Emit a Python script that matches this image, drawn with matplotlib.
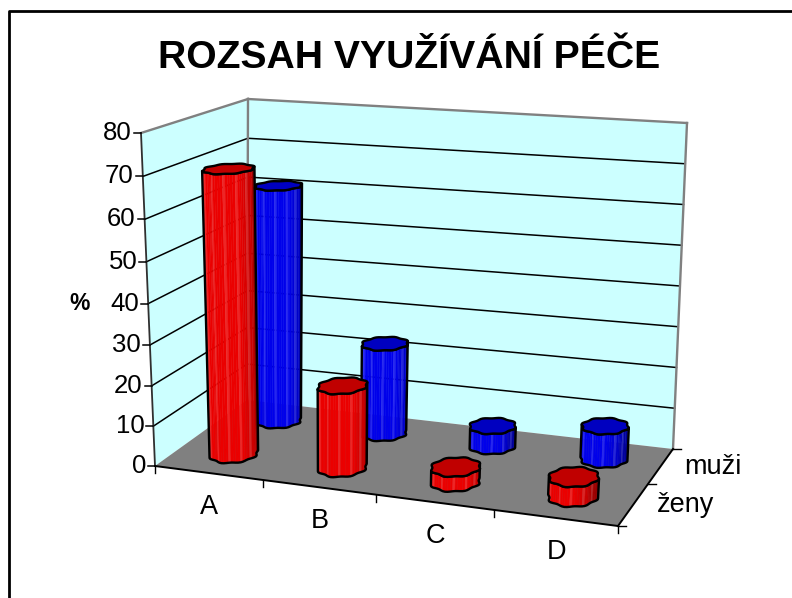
import numpy as np
import matplotlib
matplotlib.use('Agg')
import matplotlib.pyplot as plt
from matplotlib.patches import Polygon

plt.rcParams['font.family'] = ['Liberation Sans', 'DejaVu Sans']

title = "ROZSAH VYUŽÍVÁNÍ PÉČE"
categories = ['A', 'B', 'C', 'D']
series_names = ['ženy', 'muži']
zeny = [70, 20, 3.5, 4.5]
muzi = [61, 23, 5, 8]
z_ticks = [0, 10, 20, 30, 40, 50, 60, 70, 80]

# pixel positions of the 3D box corners, (cat, series, value)
corners = {
    (0, 0, 0): (155, 466), (1, 0, 0): (618, 526),
    (0, 1, 0): (247, 400), (1, 1, 0): (673, 449),
    (0, 0, 1): (141, 133), (1, 0, 1): (640, 160),
    (0, 1, 1): (248, 99), (1, 1, 1): (687, 123),
}


def project(x, y, z):
    u, v, w = x / 4, y / 2, z / 80
    # the original has some perspective, bend each axis a little
    w = w - 0.05 * w * (1 - w) * (1 - u)
    v = 1.2 * v / (1 + 0.2 * v)
    k = 0.911 + 0.04 * v
    u = k * u / (1 + (k - 1) * u)
    px, py = 0, 0
    for (a, b, c), (cx, cy) in corners.items():
        m = (u if a else 1 - u) * (v if b else 1 - v) * (w if c else 1 - w)
        px += m * cx
        py += m * cy
    return px, py


def line(ax, p1, p2, color='black', lw=1.2, zorder=2):
    ax.plot([p1[0], p2[0]], [p1[1], p2[1]], color=color, lw=lw, zorder=zorder,
            solid_capstyle='projecting')


def cylinder(ax, cat, ser, value, side, top, rx=0.195, ry=0.24):
    # angles of the ring, with a small ripple as in the original
    t = np.linspace(0, 2 * np.pi, 65)
    r = 1 + 0.05 * np.cos(8 * t)
    xs = cat + 0.5 + rx * r * np.cos(t)
    ys = ser + 0.5 + ry * r * np.sin(t)
    low = np.array([project(a, b, 0) for a, b in zip(xs, ys)])
    high = np.array([project(a, b, value) for a, b in zip(xs, ys)])

    left = np.argmin(high[:, 0] - high[:, 1] * 0.1)
    right = np.argmax(high[:, 0] - high[:, 1] * 0.1)
    n = len(t) - 1
    # front part of the ring, going from left to right along the lower side
    idx = []
    i = left
    step = 1 if high[(left + 1) % n, 1] > high[(left - 1) % n, 1] else -1
    while i != right:
        idx.append(i)
        i = (i + step) % n
    idx.append(right)

    low_f, high_f = low[idx], high[idx]
    for j in range(len(idx) - 1):
        f = j / (len(idx) - 2)
        shade = min(1, 1.15 - 0.6 * f ** 2.5)
        col = np.array(side) * shade
        if j % 5 == 2:
            col = col + (1 - col) * 0.15
        quad = [low_f[j], low_f[j + 1], high_f[j + 1], high_f[j]]
        ax.add_patch(Polygon(quad, closed=True, fc=np.clip(col, 0, 1), ec=np.clip(col, 0, 1),
                             lw=0.3, zorder=3))
    outline = np.vstack([low_f, high_f[::-1]])
    ax.add_patch(Polygon(outline, closed=True, fc='none', ec='black', lw=1.7, zorder=3,
                         joinstyle='round'))
    ax.add_patch(Polygon(high[:-1], closed=True, fc=top, ec='black', lw=1.7, zorder=3,
                         joinstyle='round'))


fig = plt.figure(figsize=(7.92, 5.98), dpi=100)
ax = fig.add_axes([0, 0, 1, 1])
ax.set_xlim(0, 792)
ax.set_ylim(598, 0)
ax.axis('off')

# frame, only top and left survive in the picture
ax.plot([9, 9, 792], [598, 11, 11], color='black', lw=2)

# walls and floor
ax.add_patch(Polygon([project(0, 0, 0), project(0, 2, 0), project(0, 2, 80), project(0, 0, 80)],
                     closed=True, fc='#CCFFFF', ec='none', zorder=1))
ax.add_patch(Polygon([project(0, 2, 0), project(4, 2, 0), project(4, 2, 80), project(0, 2, 80)],
                     closed=True, fc='#CCFFFF', ec='none', zorder=1))
ax.add_patch(Polygon([project(0, 0, 0), project(4, 0, 0), project(4, 2, 0), project(0, 2, 0)],
                     closed=True, fc='#808080', ec='none', zorder=1.5))

for z in z_ticks[1:-1]:
    line(ax, project(0, 0, z), project(0, 2, z), lw=1.1)
    line(ax, project(0, 2, z), project(4, 2, z), lw=1.1)

# grey wall edges
line(ax, project(0, 0, 80), project(0, 2, 80), color='#808080', lw=1.7)
line(ax, project(0, 2, 80), project(4, 2, 80), color='#808080', lw=1.7)
line(ax, project(0, 2, 80), project(0, 2, 0), color='#808080', lw=1.7)
line(ax, project(4, 2, 80), project(4, 2, 0), color='#808080', lw=1.7)

# axes and ticks
line(ax, project(0, 0, 0), project(0, 0, 80), color='#303030', lw=1.3)
line(ax, project(0, 0, 0), project(4, 0, 0), lw=1.4)
line(ax, project(4, 0, 0), project(4, 2, 0), lw=1.4)
for z in z_ticks:
    px, py = project(0, 0, z)
    ax.plot([px - 7, px], [py, py], color='black', lw=1.1)
    ax.text(px - 9, py, str(z), ha='right', va='center', fontsize=18.5)
for i in range(5):
    px, py = project(i, 0, 0)
    ax.plot([px, px], [py, py + 7], color='black', lw=1.0)
for i in range(3):
    px, py = project(4, i, 0)
    ax.plot([px, px + 8], [py, py], color='black', lw=1.0)

for i, name in enumerate(categories):
    px, py = project(i + 0.5, 0, 0)
    ax.text(px + 1, py + 34, name, ha='center', va='center', fontsize=19.5)
for i, name in enumerate(series_names):
    px, py = project(4, i + 0.5, 0)
    ax.text(px + 23, py + 1, name, ha='left', va='center', fontsize=19.5)

ax.text(80, 304, '%', ha='center', va='center', fontsize=16.5, fontweight='bold')
ax.text(409, 58, title, ha='center', va='center', fontsize=28.2, fontweight='bold')

# back row first, then the front one
for i, v in enumerate(muzi):
    cylinder(ax, i, 1, v, (0, 0, 0.92), '#0000C0')
for i, v in enumerate(zeny):
    cylinder(ax, i, 0, v, (0.92, 0, 0), '#C00000')

fig.savefig('out.png', dpi=100)
